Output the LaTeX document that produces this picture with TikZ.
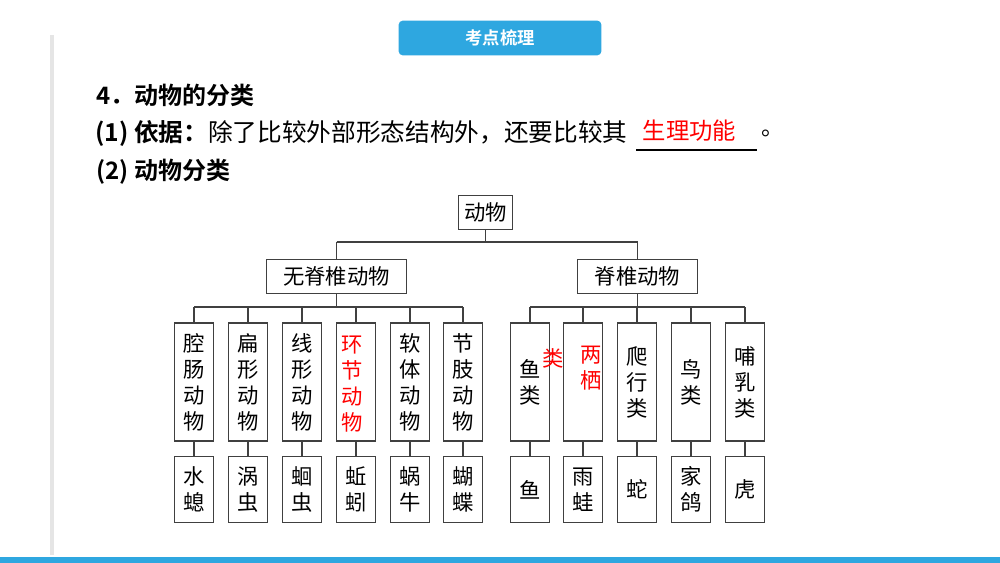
\documentclass[tikz,border=0pt]{standalone}
\usepackage{fontspec}
\usepackage{xcolor}
\newfontfamily\cjk{Noto Sans CJK SC}
\newfontfamily\cjkb{Noto Sans CJK SC Bold}
\definecolor{hdblue}{HTML}{2EA7E0}
\tikzset{
  box/.style={draw=black!75,line width=0.8pt,inner sep=0pt},
  col/.style={box,minimum width=29pt,minimum height=88.5pt,align=center,font=\cjk\fontsize{16}{19.5}\selectfont},
  low/.style={box,minimum width=29pt,minimum height=50pt,align=center,font=\cjk\fontsize{16}{19.5}\selectfont},
  wide/.style={box,minimum height=26pt,inner xsep=4pt,font=\cjk\fontsize{16}{19}\selectfont},
  link/.style={draw=black!75,line width=0.8pt}
}
\begin{document}
\begin{tikzpicture}[x=0.75pt,y=-0.75pt]
\useasboundingbox(0,0)rectangle(1000,563);
\fill[white](0,0)rectangle(1000,563);
\fill[black!10](50,35)rectangle(54,555);
\fill[hdblue](0,557)rectangle(1000,563);
\node[fill=hdblue,rounded corners=3pt,minimum width=152pt,minimum height=26pt,text=white,font=\cjkb\fontsize{13}{15}\selectfont](hd)at(500,38){考点梳理};
% heading text
\node[anchor=west,font=\cjkb\fontsize{18}{20}\selectfont](t1)at(92,95){4．动物的分类};
\node[anchor=west,font=\cjk\fontsize{18.5}{20}\selectfont,inner xsep=0pt](t2)at(95,133){{\cjkb (1) 依据：}除了比较外部形态结构外，还要比较其};
\node[anchor=west,text=red,font=\cjk\fontsize{17.5}{20}\selectfont](ans)at(638,131){生理功能};
\node[anchor=west,font=\cjk\fontsize{17}{20}\selectfont](dot)at(757,133){。};
\draw[line width=0.8pt](636,150)--(757,150);
\node[anchor=west,font=\cjkb\fontsize{18}{20}\selectfont](t3)at(92,172){(2) 动物分类};
% tree
\node[wide](root)at(485.5,212.5){动物};
\node[wide,minimum width=105pt](inv)at(336.5,276.5){无脊椎动物};
\node[wide,minimum width=90pt](ver)at(637.5,276.5){脊椎动物};
\draw[link](root.south)--(485.5,242) (336.5,242)--(637.5,242) (336.5,242)--(inv.north) (637.5,242)--(ver.north);
\foreach \n/\x/\t/\b in {a/194/腔\\肠\\动\\物/水\\螅,b/248/扁\\形\\动\\物/涡\\虫,c/302/线\\形\\动\\物/蛔\\虫,
  d/356/{}/蚯\\蚓,e/410/软\\体\\动\\物/蜗\\牛,f/463/节\\肢\\动\\物/蝴\\蝶,
  g/530/鱼\\类/鱼,h/583/{}/雨\\蛙,i/637/爬\\行\\类/蛇,j/691/鸟\\类/家\\鸽,k/745/哺\\乳\\类/虎}{
  \node[col](u\n)at(\x,382){\t};
  \node[low](l\n)at(\x,489.5){\b};
  \draw[link](u\n.south)--(l\n.north);
}
\node[text=red,align=center,font=\cjk\fontsize{16}{19.5}\selectfont](hj)at(352,384){环\\节\\动\\物};
\node[text=red,align=center,font=\cjk\fontsize{16}{19.5}\selectfont](lq)at(591,368){两\\栖};
\node[text=red,font=\cjk\fontsize{16}{19.5}\selectfont](lq2)at(553,358){类};
\draw[link](inv.south)--(336.5,307) (194,307)--(463,307) (ver.south)--(637.5,307) (530,307)--(745,307);
\foreach \n/\x in {a/194,b/248,c/302,d/356,e/410,f/463}{\draw[link](\x,307)--(u\n.north);}
\foreach \n/\x in {g/530,h/583,i/637,j/691,k/745}{\draw[link](\x,307)--(u\n.north);}
\end{tikzpicture}
\end{document}
